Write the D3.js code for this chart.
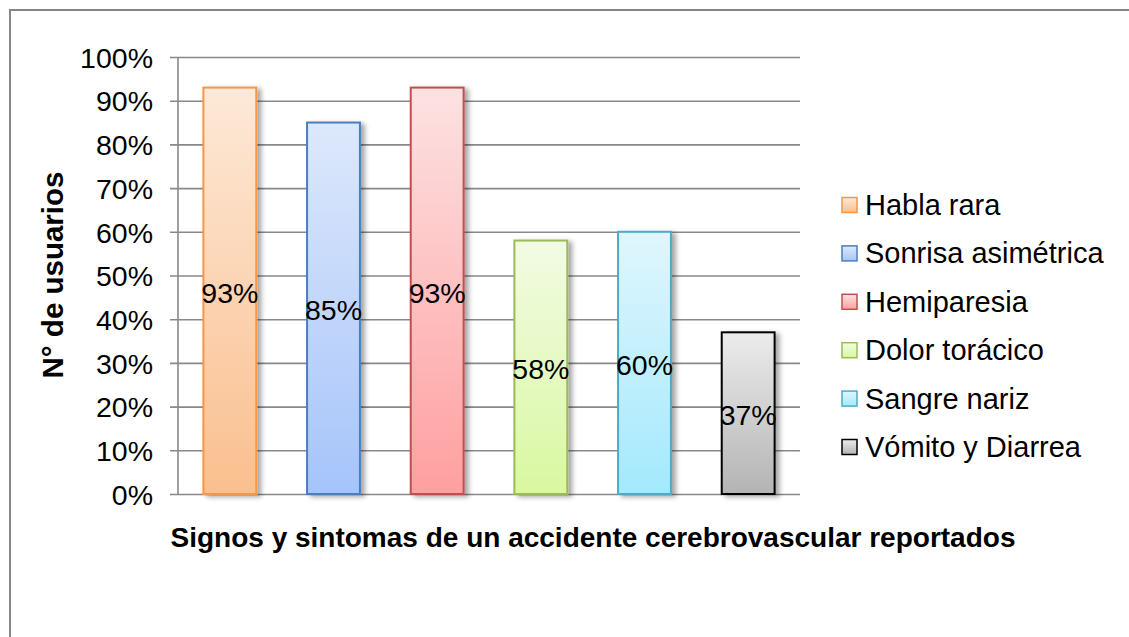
<!DOCTYPE html>
<html>
<head>
<meta charset="utf-8">
<script src="https://cdn.jsdelivr.net/npm/d3@7"></script>
<style>
  html, body { margin: 0; padding: 0; background: #fff; }
  text { font-family: Arial, "Liberation Sans", sans-serif; fill: #000; }
</style>
</head>
<body>
<svg id="chart" width="1129" height="637"></svg>
<script>
// chart data
var categories = ['Habla rara', 'Sonrisa asimétrica', 'Hemiparesia', 'Dolor torácico', 'Sangre nariz', 'Vómito y Diarrea'];
var values = [0.93, 0.85, 0.93, 0.58, 0.60, 0.37];
var yTicks = [0, 0.1, 0.2, 0.3, 0.4, 0.5, 0.6, 0.7, 0.8, 0.9, 1.0];
var yTitle = 'N° de usuarios';
var xTitle = 'Signos y sintomas de un accidente cerebrovascular reportados';

// colours: [top of gradient, bottom of gradient, outline]
var topColors = ['#fde9d8', '#dde8fb', '#fde2e2', '#f2fbe4', '#e0f6fd', '#ececec'];
var bottomColors = ['#fabf8e', '#a6c4fa', '#ff9fa0', '#d9f8a0', '#a3e9fd', '#b4b4b4'];
var strokeColors = ['#f79646', '#4a7ec0', '#c0504d', '#9bbb59', '#4bacc6', '#000000'];

var svg = d3.select('#chart');
var plotLeft = 178, plotRight = 800, plotTop = 57, plotBottom = 494;

// outer frame (cut off on right and bottom like the original)
svg.append('rect')
  .attr('x', 10).attr('y', 10)
  .attr('width', 1140).attr('height', 640)
  .attr('fill', 'none')
  .attr('stroke', '#868686')
  .attr('stroke-width', 2);

var defs = svg.append('defs');
categories.forEach(function(c, i) {
  var g = defs.append('linearGradient')
    .attr('id', 'grad' + i)
    .attr('x1', 0).attr('y1', 0).attr('x2', 0).attr('y2', 1);
  g.append('stop').attr('offset', '0%').attr('stop-color', topColors[i]);
  g.append('stop').attr('offset', '100%').attr('stop-color', bottomColors[i]);
});
var shadow = defs.append('filter').attr('id', 'shadow')
  .attr('x', '-20%').attr('y', '-5%').attr('width', '150%').attr('height', '115%');
shadow.append('feDropShadow')
  .attr('dx', 4).attr('dy', 2).attr('stdDeviation', 2.5)
  .attr('flood-color', '#000').attr('flood-opacity', 0.35);

var x = d3.scaleBand().domain(categories).range([plotLeft, plotRight]).paddingInner(0.49).paddingOuter(0.245);
var y = d3.scaleLinear().domain([0, 1]).range([plotBottom, plotTop]);

// gridlines + ticks
var yAxis = d3.axisLeft(y)
  .tickValues(yTicks)
  .tickSize(-(plotRight - plotLeft + 8))
  .tickFormat(function(d) { return Math.round(d * 100) + '%'; });

var gAxis = svg.append('g')
  .attr('transform', 'translate(' + (plotLeft - 8) + ',0)')
  .call(yAxis);
gAxis.select('.domain').remove();
gAxis.selectAll('.tick line')
  .attr('stroke', '#898989')
  .attr('stroke-width', 1.6);
gAxis.selectAll('.tick text')
  .attr('x', -17)
  .attr('dy', '0.36em')
  .style('font-family', 'Arial, "Liberation Sans", sans-serif')
  .style('font-size', '28.5px');

// vertical axis line
svg.append('line')
  .attr('x1', plotLeft).attr('x2', plotLeft)
  .attr('y1', y(1)).attr('y2', y(0))
  .attr('stroke', '#898989')
  .attr('stroke-width', 1.6);

// bars
svg.selectAll('.bar')
  .data(values)
  .enter().append('rect')
    .attr('class', 'bar')
    .attr('x', function(d, i) { return x(categories[i]); })
    .attr('y', function(d) { return y(d); })
    .attr('width', x.bandwidth())
    .attr('height', function(d) { return y(0) - y(d); })
    .attr('fill', function(d, i) { return 'url(#grad' + i + ')'; })
    .attr('stroke', function(d, i) { return strokeColors[i]; })
    .attr('stroke-width', 2)
    .attr('filter', 'url(#shadow)');

// value labels in the middle of each bar
svg.selectAll('.valueLabel')
  .data(values)
  .enter().append('text')
    .attr('class', 'valueLabel')
    .attr('text-anchor', 'middle')
    .attr('dominant-baseline', 'central')
    .attr('x', function(d, i) { return x(categories[i]) + x.bandwidth() / 2; })
    .attr('y', function(d) { return (y(d) + y(0)) / 2 + 2; })
    .style('font-size', '28.5px')
    .text(function(d) { return Math.round(d * 100) + '%'; });

// legend
var legend = svg.selectAll('.legend')
  .data(categories)
  .enter().append('g')
    .attr('class', 'legend')
    .attr('transform', function(d, i) { return 'translate(842,' + (205 + i * 48.4) + ')'; });
legend.append('rect')
  .attr('x', 0).attr('y', -7.5)
  .attr('width', 15).attr('height', 15)
  .attr('fill', function(d, i) { return 'url(#grad' + i + ')'; })
  .attr('stroke', function(d, i) { return strokeColors[i]; })
  .attr('stroke-width', 1.5);
legend.append('text')
  .attr('x', 23)
  .attr('dominant-baseline', 'central')
  .style('font-size', '29px')
  .text(function(d) { return d; });

// axis titles
svg.append('text')
  .attr('transform', 'translate(63,275) rotate(-90)')
  .attr('text-anchor', 'middle')
  .style('font-size', '29.5px')
  .style('font-weight', 'bold')
  .text(yTitle);

svg.append('text')
  .attr('x', 593)
  .attr('y', 547)
  .attr('text-anchor', 'middle')
  .style('font-size', '28px')
  .style('font-weight', 'bold')
  .text(xTitle);
</script>
</body>
</html>
